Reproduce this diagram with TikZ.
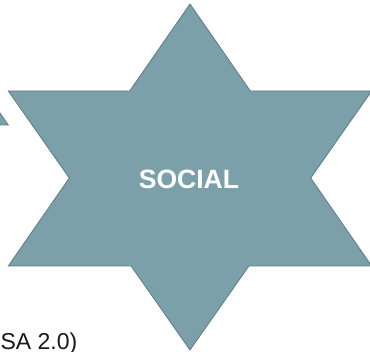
\documentclass[tikz,border=0pt]{standalone}
\usepackage{fontspec}
\setmainfont{Liberation Sans}
\definecolor{starfill}{RGB}{124,160,170}
\definecolor{staredge}{RGB}{92,124,134}
\begin{document}
\begin{tikzpicture}[x=1pt,y=-1pt,
  starshape/.style={fill=starfill,draw=staredge,line width=0.8pt,line join=miter},
  starlabel/.style={text=white,font=\fontsize{26.5}{30}\selectfont\bfseries,inner sep=0pt},
  caption/.style={text=black!90,font=\fontsize{23}{26}\selectfont,inner sep=0pt}]
\useasboundingbox (0,0) rectangle (370,352);
\clip (0,0) rectangle (370,352);
\fill[white] (0,0) rectangle (370,352);

% tip of the neighbouring star on the left
\path[starshape] (8.3,125) -- (-30,125) -- (-30,69.8) -- cycle;

% six-pointed star
\path[starshape]
  (190,4) -- (250.33,91) -- (371.7,91) -- (310.67,178) -- (371.7,266)
  -- (248.93,266) -- (190,350) -- (131.07,266) -- (8.3,266)
  -- (69.33,178) -- (8.3,91) -- (129.67,91) -- cycle;

\node[starlabel] (social) at (189,179) {SOCIAL};

% licence line, running off the left edge
\node[caption,anchor=base east] (licence) at (77.5,350) {SA 2.0)};
\end{tikzpicture}
\end{document}
